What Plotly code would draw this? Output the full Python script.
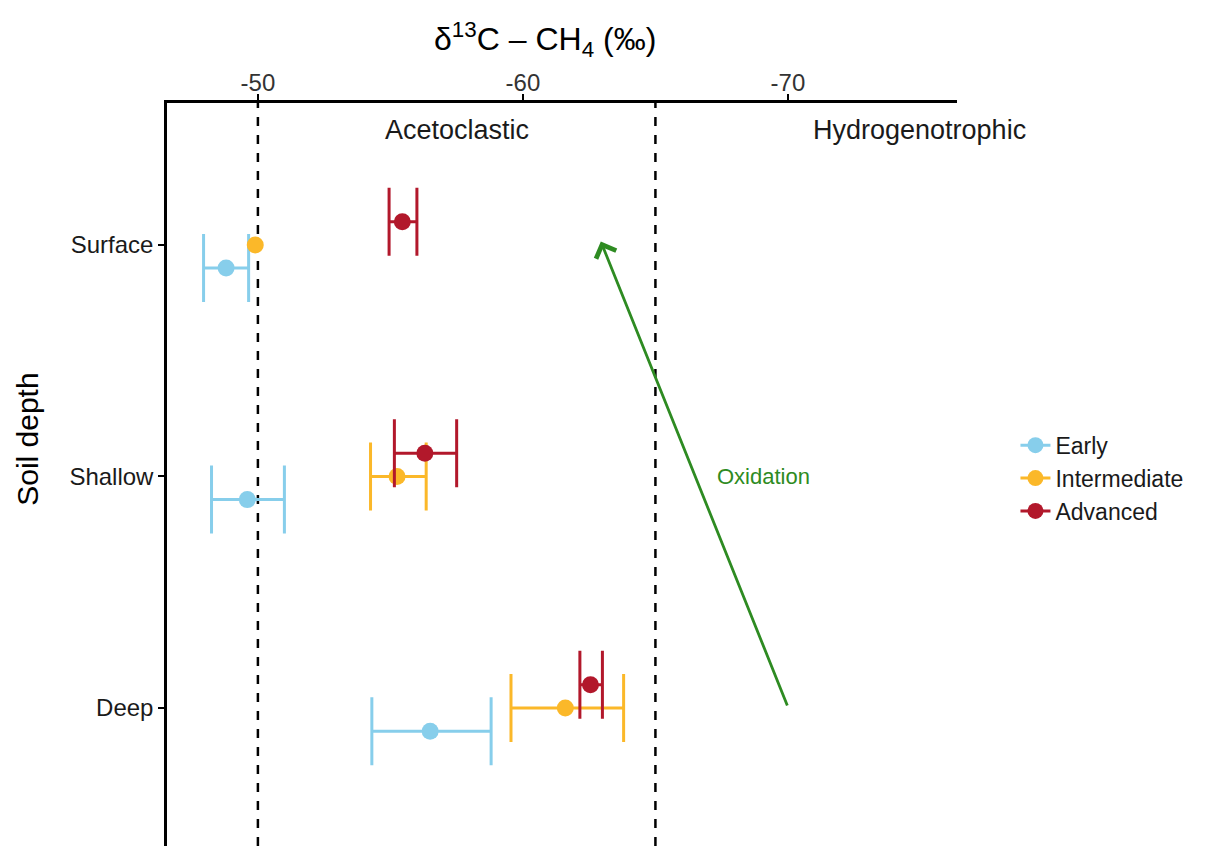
import plotly.graph_objects as go

# Soil depth categories (top to bottom) and their numeric rows
depths = ["Surface", "Shallow", "Deep"]
depth_pos = [3, 2, 1]

# Decomposition stages
stages = ["Early", "Intermediate", "Advanced"]
stage_colors = ["#87CEEB", "#FBB829", "#B2182B"]
stage_offset = [-0.1, 0.0, 0.1]

# Mean δ13C-CH4 (‰) per stage, ordered Surface, Shallow, Deep
early_mean = [-48.8, -49.6, -56.5]
early_lo = [-47.95, -48.25, -54.3]
early_hi = [-49.65, -51.0, -58.8]

inter_mean = [-49.9, -55.25, -61.6]
inter_lo = [None, -54.25, -59.55]
inter_hi = [None, -56.35, -63.8]

adv_mean = [-55.45, -56.3, -62.55]
adv_lo = [-54.95, -55.15, -62.15]
adv_hi = [-56.0, -57.5, -63.0]

means = [early_mean, inter_mean, adv_mean]
lows = [early_lo, inter_lo, adv_lo]
highs = [early_hi, inter_hi, adv_hi]

# Pathway boundaries (‰)
boundaries = [-50, -65]

x_ticks = [-50, -60, -70]
x_range = [-46.57, -76.38]
y_range = [0.404, 3.613]

fig = go.Figure()

for name, color, off, m, lo, hi in zip(stages, stage_colors, stage_offset, means, lows, highs):
    ys = [p + off for p in depth_pos]
    # interval bars only where an interval exists
    keep = [i for i in range(len(m)) if lo[i] is not None and hi[i] is not None]
    fig.add_trace(go.Scatter(
        x=[m[i] for i in keep], y=[ys[i] for i in keep], mode="markers",
        marker=dict(color=color, size=1, opacity=0), showlegend=False,
        hoverinfo="skip", cliponaxis=False,
        error_x=dict(type="data", symmetric=False,
                     array=[lo[i] - m[i] for i in keep],
                     arrayminus=[m[i] - hi[i] for i in keep],
                     color=color, thickness=3, width=34),
    ))
    fig.add_trace(go.Scatter(
        x=m, y=ys, mode="markers", name=name, showlegend=False,
        marker=dict(color=color, size=17, line=dict(width=0)),
        cliponaxis=False,
    ))

# legend glyphs: point with a short interval stroke
for name, color in zip(stages, stage_colors):
    fig.add_trace(go.Scatter(
        x=[None], y=[None], mode="lines+markers", name=name,
        line=dict(color=color, width=3),
        marker=dict(color=color, size=17),
    ))

for b in boundaries:
    fig.add_shape(type="line", x0=b, x1=b, y0=0, y1=1, xref="x", yref="paper",
                  line=dict(color="black", width=2.5, dash="dash"), layer="below")

# Oxidation arrow from deep hydrogenotrophic signal toward surface
green = "#2E8B22"
fig.add_annotation(x=-62.94, y=3.015, ax=-70, ay=1.004, xref="x", yref="y",
                   axref="x", ayref="y", showarrow=True, arrowhead=4,
                   arrowsize=1.5, arrowwidth=2.8, arrowcolor=green, text="")
fig.add_annotation(x=-69.06, y=2.0, xref="x", yref="y", text="Oxidation",
                   showarrow=False, font=dict(color=green, size=22))

fig.add_annotation(x=-57.5, y=3.497, xref="x", yref="y", text="Acetoclastic",
                   showarrow=False, font=dict(color="#1a1a1a", size=27))
fig.add_annotation(x=-74.98, y=3.497, xref="x", yref="y", text="Hydrogenotrophic",
                   showarrow=False, font=dict(color="#1a1a1a", size=27))

fig.add_annotation(x=0.478, y=1.085, xref="paper", yref="paper",
                   xanchor="center", yanchor="middle",
                   text="δ<sup>13</sup>C – CH<sub>4</sub> (‰)", showarrow=False,
                   font=dict(color="black", size=32))
fig.add_annotation(x=-0.176, y=0.548, xref="paper", yref="paper",
                   xanchor="center", yanchor="middle",
                   text="Soil depth", textangle=-90, showarrow=False,
                   font=dict(color="black", size=30))

fig.update_layout(
    width=1213, height=846,
    margin=dict(l=167, r=256, t=103, b=0),
    paper_bgcolor="white", plot_bgcolor="white",
    font=dict(family="Liberation Sans, Arial, sans-serif", color="#333333"),
    showlegend=True,
    legend=dict(x=1.074, y=0.495, xanchor="left", yanchor="middle",
                font=dict(size=23, color="#1a1a1a"), itemsizing="trace",
                itemwidth=30, tracegroupgap=0, bgcolor="rgba(0,0,0,0)"),
    xaxis=dict(side="top", range=x_range, tickvals=x_ticks,
               ticktext=[str(t) for t in x_ticks], showgrid=False,
               zeroline=False, showline=True, linecolor="black", linewidth=2.5,
               ticks="outside", ticklen=6, tickwidth=2, tickcolor="black",
               ticklabelstandoff=-6,
               tickfont=dict(size=24, color="#333333")),
    yaxis=dict(range=y_range, tickvals=depth_pos, ticktext=depths,
               showgrid=False, zeroline=False, showline=True, linecolor="black",
               linewidth=2.5, ticks="outside", ticklen=6, tickwidth=2,
               tickcolor="black", tickfont=dict(size=24, color="#1a1a1a")),
)

fig.write_html("out.html")
